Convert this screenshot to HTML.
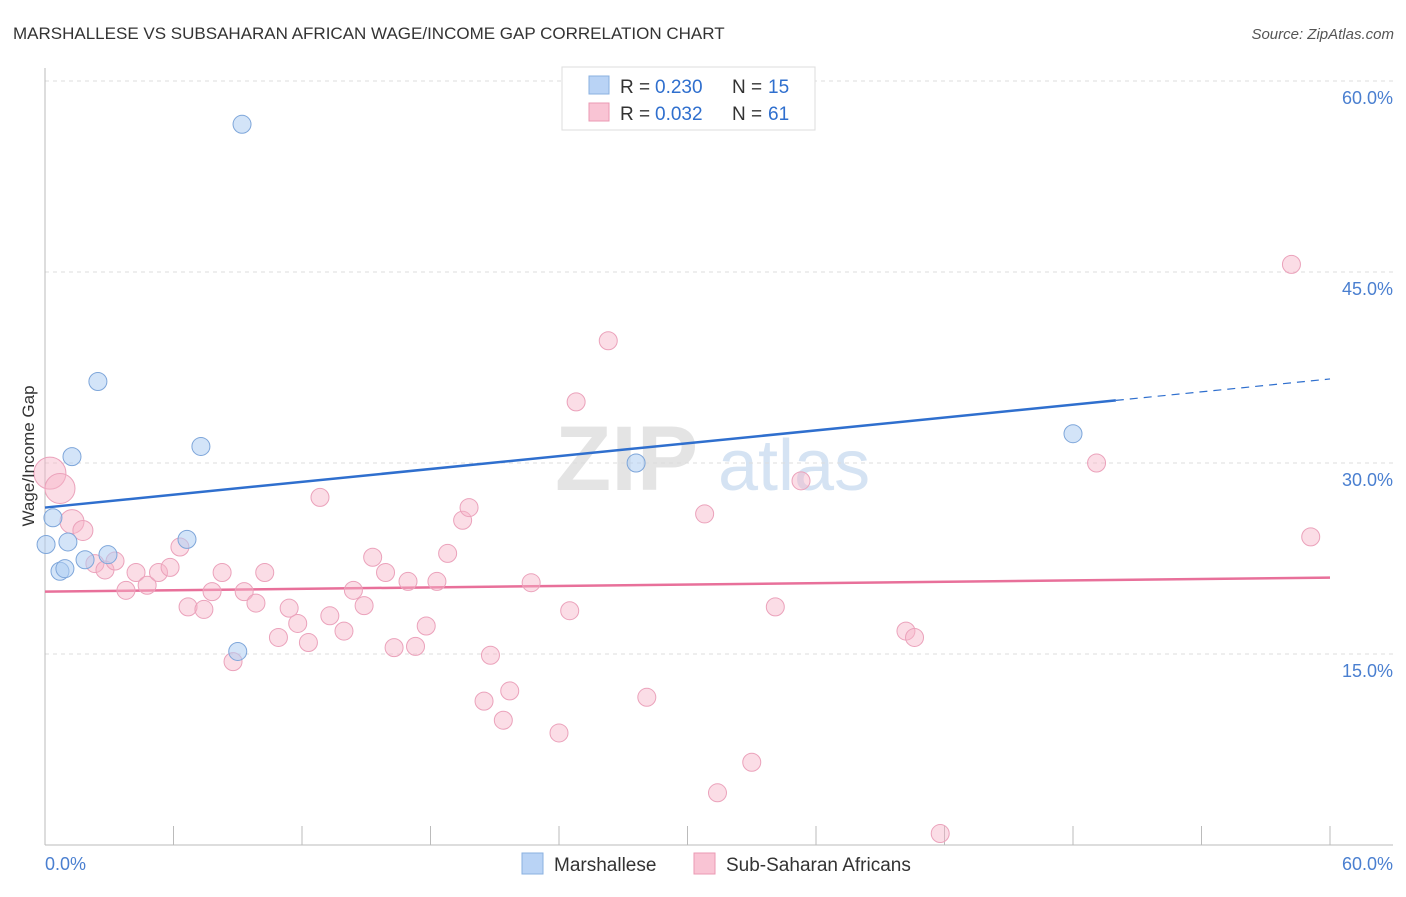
<!DOCTYPE html>
<html><head><meta charset="utf-8"><style>
body{margin:0;background:#fff;font-family:"Liberation Sans",sans-serif}
svg text{font-family:"Liberation Sans",sans-serif}
</style></head><body>
<svg width="1406" height="892" viewBox="0 0 1406 892" xmlns="http://www.w3.org/2000/svg">
<text x="13" y="39" font-size="17" fill="#333">MARSHALLESE VS SUBSAHARAN AFRICAN WAGE/INCOME GAP CORRELATION CHART</text>
<text x="1394" y="39" font-size="15" fill="#555" text-anchor="end" font-style="italic">Source: ZipAtlas.com</text>
<g><text x="555" y="490" font-size="92" fill="#e4e4e4" font-family="Liberation Serif" font-weight="bold">ZIP</text><text x="718" y="490" font-size="72" fill="#d5e3f3">atlas</text></g>
<g id="grid"></g>
<g id="axes"></g>
<g id="lines"></g>
<g id="pts"></g>
<text transform="translate(34,456) rotate(-90)" font-size="17" fill="#333" text-anchor="middle">Wage/Income Gap</text>
<g>
<rect x="562" y="67" width="253" height="63" fill="#fff" stroke="#ddd"/>
<rect x="589" y="76" width="20" height="18" fill="#b9d3f5" stroke="#8ab0e0"/>
<rect x="589" y="103" width="20" height="18" fill="#f9c4d4" stroke="#eb9ab3"/>
<text x="620" y="93" font-size="19" fill="#333">R = </text><text x="655" y="93" font-size="19" fill="#2f6fce">0.230</text>
<text x="732" y="93" font-size="19" fill="#333">N = </text><text x="768" y="93" font-size="19" fill="#2f6fce">15</text>
<text x="620" y="120" font-size="19" fill="#333">R = </text><text x="655" y="120" font-size="19" fill="#2f6fce">0.032</text>
<text x="732" y="120" font-size="19" fill="#333">N = </text><text x="768" y="120" font-size="19" fill="#2f6fce">61</text>
</g>
<g>
<rect x="522" y="853" width="21" height="21" fill="#b9d3f5" stroke="#8ab0e0"/>
<text x="554" y="871" font-size="19" fill="#333">Marshallese</text>
<rect x="694" y="853" width="21" height="21" fill="#f9c4d4" stroke="#eb9ab3"/>
<text x="726" y="871" font-size="19" fill="#333">Sub-Saharan Africans</text>
</g>
</svg>
<script>
const yTicks=[15,30,45,60];
const yTickLabels=["15.0%","30.0%","45.0%","60.0%"];
const xLabels=["0.0%","60.0%"];
const blueX=[9.2,2.47,1.26,7.28,0.37,0.05,1.07,0.7,0.93,1.87,2.94,6.63,9.0,27.6,48.0];
const blueY=[56.6,36.4,30.5,31.3,25.7,23.6,23.8,21.5,21.7,22.4,22.8,24.0,15.2,30.0,32.3];
const pinkX=[0.23,0.7,1.26,1.77,2.33,2.8,3.27,3.78,4.25,4.77,5.3,5.84,6.3,6.68,7.42,7.8,8.27,8.78,9.3,9.85,10.26,10.9,11.4,11.8,12.3,12.84,13.3,13.96,14.4,14.9,15.3,15.9,16.3,16.95,17.3,17.8,18.3,18.8,19.5,19.8,20.5,20.8,21.4,21.7,22.7,24.0,24.5,24.8,26.3,28.1,30.8,31.4,33.0,34.1,35.3,40.2,40.6,41.8,49.1,58.2,59.1];
const pinkY=[29.2,28.0,25.4,24.7,22.1,21.6,22.3,20.0,21.4,20.4,21.4,21.8,23.4,18.7,18.5,19.9,21.4,14.4,19.9,19.0,21.4,16.3,18.6,17.4,15.9,27.3,18.0,16.8,20.0,18.8,22.6,21.4,15.5,20.7,15.6,17.2,20.7,22.9,25.5,26.5,11.3,14.9,9.8,12.1,20.6,8.8,18.4,34.8,39.6,11.6,26.0,4.1,6.5,18.7,28.6,16.8,16.3,0.9,30.0,45.6,24.2];
const pinkR=[16,15,12,10];
const blueTrend=[26.5,36.6];const pinkTrend=[19.9,21.0];
const X=v=>45+v/60*1285, Y=v=>845-v/15*191;
const NS="http://www.w3.org/2000/svg";
function mk(p,t,a){const e=document.createElementNS(NS,t);for(const k in a)e.setAttribute(k,a[k]);document.getElementById(p).appendChild(e);return e;}
yTicks.forEach((t,i)=>{let l=mk('grid','line',{x1:45,x2:1393,y1:Y(t),y2:Y(t),stroke:'#ddd','stroke-dasharray':'4,4'});

let tx=mk('grid','text',{x:1393,y:Y(t)+23,'font-size':18,fill:'#4a7fd0','text-anchor':'end'});tx.textContent=yTickLabels[i];
});
mk('axes','line',{x1:45,x2:45,y1:68,y2:845,stroke:'#bbb'});
mk('axes','line',{x1:45,x2:1393,y1:845,y2:845,stroke:'#bbb'});
for(let i=0;i<=10;i++){let t=mk('axes','line',{x1:X(i*6),x2:X(i*6),y1:826,y2:845,stroke:'#bbb'});}
[[0,'start',45],[60,'end',1393]].forEach((d,i)=>{let t=mk('axes','text',{x:d[2],y:870,'font-size':18,fill:'#4a7fd0','text-anchor':d[1]});t.textContent=xLabels[i];});
pinkX.forEach((x,i)=>{let c=mk('pts','circle',{cx:X(x),cy:Y(pinkY[i]),r:pinkR[i]||9,fill:'rgba(246,180,200,0.45)',stroke:'#eba2bb','stroke-width':1});
});
blueX.forEach((x,i)=>{let c=mk('pts','circle',{cx:X(x),cy:Y(blueY[i]),r:9,fill:'rgba(175,205,242,0.55)',stroke:'#7ea6da','stroke-width':1});
});
const bAt=v=>blueTrend[0]+(blueTrend[1]-blueTrend[0])*v/60;
let b1=mk('lines','line',{x1:X(0),y1:Y(bAt(0)),x2:X(50),y2:Y(bAt(50)),stroke:'#2f6fce','stroke-width':2.5});

let b2=mk('lines','line',{x1:X(50),y1:Y(bAt(50)),x2:X(60),y2:Y(bAt(60)),stroke:'#2f6fce','stroke-width':1.2,'stroke-dasharray':'8,6'});

let p1=mk('lines','line',{x1:X(0),y1:Y(pinkTrend[0]),x2:X(60),y2:Y(pinkTrend[1]),stroke:'#e8709a','stroke-width':2.5});

</script>
</body></html>
